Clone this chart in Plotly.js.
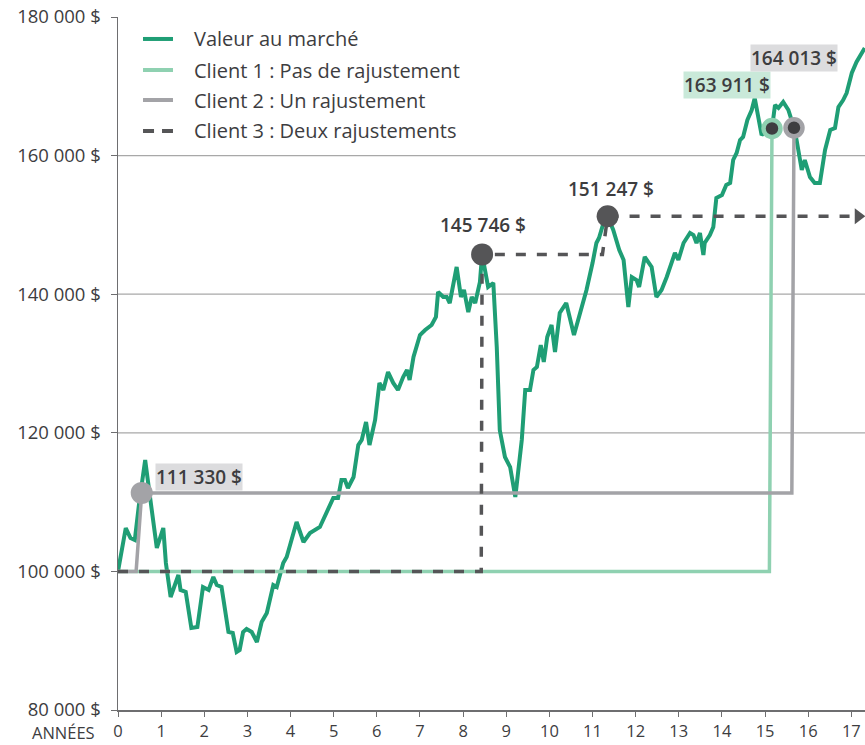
<!DOCTYPE html>
<html>
<head>
<meta charset="utf-8">
<script src="https://cdn.plot.ly/plotly-3.0.1.min.js"></script>
<style>html,body{margin:0;padding:0;background:#fff;}#chart{width:865px;height:745px;}</style>
</head>
<body>
<div id="chart"></div>
<script>
// ---- Data ----
const mktYears = [0.00,0.18,0.29,0.39,0.49,0.63,0.73,0.90,1.05,1.11,1.22,1.40,1.45,1.57,1.70,1.84,1.97,2.10,2.21,2.29,2.40,2.56,2.66,2.75,2.82,2.90,2.98,3.10,3.22,3.33,3.45,3.60,3.68,3.83,3.91,4.14,4.30,4.45,4.68,4.84,4.99,5.10,5.18,5.26,5.33,5.46,5.57,5.65,5.75,5.83,5.96,6.06,6.15,6.26,6.38,6.49,6.61,6.70,6.76,6.85,7.00,7.12,7.27,7.37,7.42,7.54,7.62,7.69,7.85,7.95,8.02,8.12,8.20,8.28,8.39,8.44,8.58,8.70,8.78,8.85,8.97,9.09,9.21,9.36,9.44,9.55,9.63,9.71,9.80,9.87,9.95,10.05,10.13,10.24,10.39,10.57,10.71,10.86,11.00,11.09,11.15,11.24,11.35,11.48,11.62,11.72,11.83,11.91,12.02,12.08,12.21,12.37,12.48,12.60,12.72,12.84,12.91,12.99,13.11,13.26,13.34,13.41,13.49,13.57,13.60,13.72,13.80,13.87,14.00,14.10,14.19,14.26,14.34,14.42,14.49,14.59,14.69,14.76,14.84,14.92,15.03,15.16,15.23,15.31,15.42,15.54,15.67,15.73,15.85,15.92,16.04,16.15,16.27,16.39,16.51,16.62,16.70,16.81,16.89,17.01,17.12,17.24,17.31];
const mktValues = [100000,106260,104820,104530,109870,116080,111310,103380,106260,101210,96310,99480,97320,97030,91830,91980,97750,97320,99190,98040,97750,91260,91110,88370,88660,91260,91690,91260,89810,92700,94000,98040,97750,101210,102080,107130,104240,105540,106410,108430,110590,110590,113190,113190,112030,113620,118240,118960,121560,118240,121850,127190,126180,128770,127190,126180,128050,129060,127620,130940,134110,134830,135560,136710,140320,139600,139600,138730,143930,139600,140610,137430,139600,138730,141760,145746,141040,141620,132380,120400,116510,115060,110740,118960,126180,126180,129060,129490,132670,130220,133820,135560,131660,137290,138730,134110,137290,140610,144500,147390,148110,150000,151247,149260,146380,144940,138150,142480,142050,141040,145370,143930,139600,140610,142480,144940,145950,144940,147390,148830,148540,147390,148830,145660,147390,148540,149700,153880,154310,155760,156050,159370,160380,162250,162680,165140,166580,168310,165430,162970,163690,163911,167300,166870,167730,166580,164013,162250,157920,159370,156910,156050,156050,160810,163690,163980,167010,168020,169030,171920,173510,174810,175530];

const c1Years = [0, 15.10, 15.16];
const c1Values = [100000, 100000, 163911];
const c2Years = [0, 0.42, 0.55, 15.62, 15.67];
const c2Values = [100000, 100000, 111330, 111330, 164013];
const c3Years = [0, 8.42, 8.44, 11.23, 11.35, 17.16];
const c3Values = [100000, 100000, 145746, 145746, 151247, 151247];

const seriesNames = ["Valeur au marché", "Client 1 : Pas de rajustement", "Client 2 : Un rajustement", "Client 3 : Deux rajustements"];
const yTickVals = [80000, 100000, 120000, 140000, 160000, 180000];
const yTickText = ["80 000 $", "100 000 $", "120 000 $", "140 000 $", "160 000 $", "180 000 $"];
const xTickVals = [0,1,2,3,4,5,6,7,8,9,10,11,12,13,14,15,16,17];
const xAxisLabel = "ANNÉES";
const gridVals = [120000, 140000, 160000];

// adjustment points & labels
const c2Pt1 = {x: 0.55, y: 111330, label: "111 330 $"};
const c3Pt1 = {x: 8.44, y: 145746, label: "145 746 $"};
const c3Pt2 = {x: 11.35, y: 151247, label: "151 247 $"};
const c1Pt  = {x: 15.16, y: 163911, label: "163 911 $"};
const c2Pt2 = {x: 15.67, y: 164013, label: "164 013 $"};

// ---- Styles ----
const GREEN = "#1f9e75", LGREEN = "#8fd1b1", GREY = "#a3a3a7", DARK = "#555557", TXT = "#3d3d3f";
const FONT = "'Open Sans', Lato, sans-serif";
const seriesColors = [GREEN, LGREEN, GREY, DARK];
const seriesDash = ["solid", "solid", "solid", "11px,8px"];

const traces = [
  {x: mktYears, y: mktValues, mode: "lines", name: seriesNames[0], line: {color: GREEN, width: 4}},
  {x: c1Years, y: c1Values, mode: "lines", name: seriesNames[1], line: {color: LGREEN, width: 3.5}},
  {x: c2Years, y: c2Values, mode: "lines", name: seriesNames[2], line: {color: GREY, width: 3.5}},
  {x: c3Years, y: c3Values, mode: "lines", name: seriesNames[3], line: {color: DARK, width: 3.5, dash: "10px,11px"}},
  {x: [c3Years[c3Years.length-1]], y: [c3Values[c3Values.length-1]], mode: "markers", name: "",
   marker: {symbol: "triangle-right", color: DARK, size: 14}, cliponaxis: false},
  {x: [c2Pt1.x], y: [c2Pt1.y], mode: "markers", name: "", marker: {color: GREY, size: 22}, cliponaxis: false},
  {x: [c3Pt1.x, c3Pt2.x], y: [c3Pt1.y, c3Pt2.y], mode: "markers", name: "",
   marker: {color: DARK, size: 22}, cliponaxis: false},
  {x: [c1Pt.x], y: [c1Pt.y], mode: "markers", name: "",
   marker: {color: "#3e3e40", size: 17, line: {color: LGREEN, width: 4.5}}, cliponaxis: false},
  {x: [c2Pt2.x], y: [c2Pt2.y], mode: "markers", name: "",
   marker: {color: "#3e3e40", size: 17, line: {color: GREY, width: 4.5}}, cliponaxis: false}
];

const labelFont = {family: FONT, size: 19, color: TXT, weight: 600};
const annotations = [
  {x: c2Pt1.x, y: c2Pt1.y, text: c2Pt1.label, showarrow: false, xanchor: "left", yanchor: "middle",
   xshift: 13, yshift: 16, bgcolor: "#dcdcde", borderpad: 0, font: labelFont},
  {x: c3Pt1.x, y: c3Pt1.y, text: c3Pt1.label, showarrow: false, xanchor: "center", yanchor: "middle",
   xshift: 1, yshift: 29, font: labelFont},
  {x: c3Pt2.x, y: c3Pt2.y, text: c3Pt2.label, showarrow: false, xanchor: "center", yanchor: "middle",
   xshift: 3, yshift: 27, font: labelFont},
  {x: c1Pt.x, y: c1Pt.y, text: c1Pt.label, showarrow: false, xanchor: "center", yanchor: "middle",
   xshift: -45, yshift: 44, bgcolor: "#c9e9d9", borderpad: 0, font: labelFont},
  {x: c2Pt2.x, y: c2Pt2.y, text: c2Pt2.label, showarrow: false, xanchor: "center", yanchor: "middle",
   xshift: 0, yshift: 70, bgcolor: "#dcdcde", borderpad: 0, font: labelFont},
  {xref: "paper", yref: "paper", x: 0, y: 0, text: xAxisLabel, showarrow: false, xanchor: "right",
   yanchor: "middle", xshift: -21, yshift: -22, font: {family: FONT, size: 16.5, color: TXT}}
];

const shapes = gridVals.map(v => ({type: "line", xref: "paper", x0: 0, x1: 1, yref: "y", y0: v, y1: v,
  line: {color: "#a8a8a8", width: 1.3}, layer: "below"}));

// Legend (drawn as layout items, paper coordinates)
const legRowsY = [0.9683, 0.9235, 0.8802, 0.8355];
const legX0 = 0.0335, legX1 = 0.0736, legTextX = 0.0985;
seriesNames.forEach((name, i) => {
  shapes.push({type: "line", xref: "paper", yref: "paper", x0: legX0, x1: legX1, y0: legRowsY[i], y1: legRowsY[i],
    line: {color: seriesColors[i], width: 4, dash: seriesDash[i]}});
  annotations.push({xref: "paper", yref: "paper", x: legTextX, y: legRowsY[i], text: name, showarrow: false,
    xanchor: "left", yanchor: "middle", font: {family: FONT, size: 20, color: TXT}});
});

const layout = {
  width: 865, height: 745,
  margin: {l: 118, r: 0, t: 17, b: 35},
  paper_bgcolor: "#fff", plot_bgcolor: "#fff",
  font: {family: FONT, color: TXT},
  showlegend: false,
  xaxis: {range: [0, 17.316], tickvals: xTickVals, showgrid: false, zeroline: false,
    showline: true, linecolor: "#6e6e70", linewidth: 1.5, ticks: "outside", ticklen: 5, tickcolor: "#6e6e70",
    tickfont: {family: FONT, size: 16.5, color: TXT}, ticklabelstandoff: 1, ticklabeloverflow: "allow", fixedrange: true},
  yaxis: {range: [80000, 180000], tickvals: yTickVals, ticktext: yTickText, showgrid: false, zeroline: false,
    showline: true, linecolor: "#6e6e70", linewidth: 1.5, ticks: "outside", ticklen: 6, tickcolor: "#6e6e70",
    tickfont: {family: FONT, size: 18.5, color: TXT}, ticklabelstandoff: 6, fixedrange: true},
  shapes: shapes,
  annotations: annotations
};

Plotly.newPlot("chart", traces, layout, {displayModeBar: false, staticPlot: true});
</script>
</body>
</html>
